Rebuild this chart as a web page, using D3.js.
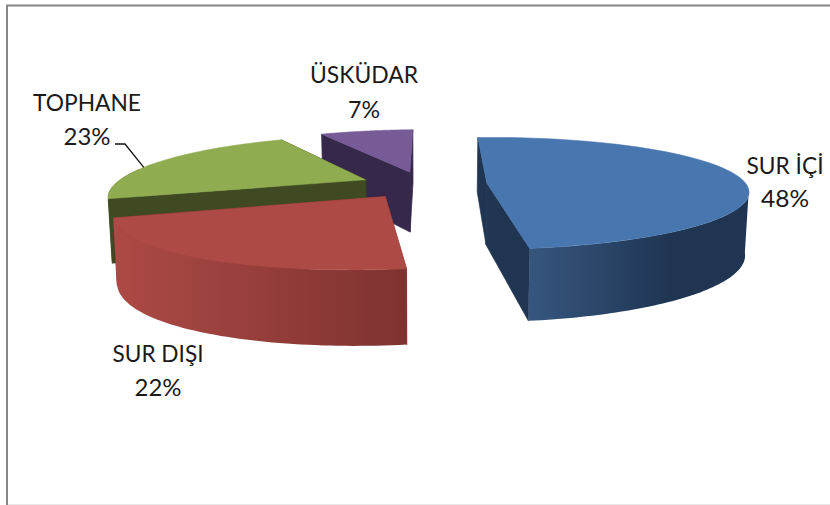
<!DOCTYPE html>
<html><head><meta charset="utf-8">
<style>html,body{margin:0;padding:0;background:#fff}svg{display:block}text{font-family:Lato,"Open Sans",sans-serif;fill:#1a1a1a}</style>
<script src="https://cdn.jsdelivr.net/npm/d3@7/dist/d3.min.js"></script>
</head><body><svg id="c" width="830" height="505"></svg>
<script>
const categories = ["SUR İÇİ", "SUR DIŞI", "TOPHANE", "ÜSKÜDAR"];
const shares = [48.49, 22, 22.51, 7];
const faceColors = ["#4876ae", "#ad4a45", "#8fac50", "#775b96"];
const wallColors = ["#1f3552", "#7e3230", "#3f4a22", "#36284a"];
const wallLightColors = ["#36567e", "#ad4a45", "#3f4a22", "#36284a"];
const labelAnchors = [[785,174,207],[158,362,396],[87,111,145],[364,83,118]];
const labelWidths = [[77,48],[91,47],[108,47],[108,32]];

const W = 830, H = 505;
const R = 260, explode = 64, persp = 0.186, squash = 0.21;
const cx = 423, cy = 184.5, vanishX = 515;
const deg = Math.PI / 180;
const svg = d3.select("#c");

function project(X, Z) {
  const s = 1 / (1 - persp * Z / R);
  return [vanishX + (X + cx - vanishX) * s, cy + squash * Z * s, s];
}
function upper(X, Z) { const p = project(X, Z); return [p[0], p[1]]; }
function lower(X, Z) {
  const p = project(X, Z);
  return [428 + (p[0] - 428) * 0.9876, p[1] + 14 + 48 * p[2]];
}
const line = d3.line();
const arcs = d3.pie().sort(null).startAngle(-3.5 * deg).endAngle(356.5 * deg)(shares);

const defs = svg.append("defs");
svg.append("rect").attr("width", W).attr("height", H).attr("fill", "#fff");

const slices = arcs.map((a, i) => {
  const mid = (a.startAngle + a.endAngle) / 2;
  const ox = explode * Math.sin(mid), oz = -explode * Math.cos(mid);
  const rim = t => {
    const sn = Math.sin(t);
    const rx = sn < 0 ? R * (1 - 0.04 * sn * sn) : R;
    return [ox + rx * sn, oz - R * Math.cos(t)];
  };
  const sample = (t0, t1) => d3.range(0, 61).map(j => rim(t0 + (t1 - t0) * j / 60));
  return { i, a, mid, ox, oz, rim, sample };
});

function drawSlice(sl) {
  const { i, a, ox, oz, rim, sample } = sl;
  const g = svg.append("g");
  const t0 = Math.max(a.startAngle, 97 * deg), t1 = Math.min(a.endAngle, 282 * deg);
  [a.startAngle, a.endAngle].forEach(t => {
    const r = rim(t);
    g.append("path").attr("fill", wallColors[i]).attr("stroke", wallColors[i]).attr("stroke-width", 0.7)
      .attr("d", line([upper(ox, oz), upper(r[0], r[1]), lower(r[0], r[1]), lower(ox, oz)]) + "Z");
  });
  if (t1 > t0) {
    const pts = sample(t0, t1);
    const up = pts.map(p => upper(p[0], p[1]));
    const dn = pts.map(p => lower(p[0], p[1])).reverse();
    const id = "wall" + i;
    const ext = d3.extent(up, p => p[0]);
    const gr = defs.append("linearGradient").attr("id", id).attr("gradientUnits", "userSpaceOnUse")
      .attr("x1", ext[0]).attr("x2", ext[1]).attr("y1", 0).attr("y2", 0);
    gr.append("stop").attr("offset", 0).attr("stop-color", wallLightColors[i]);
    if (i === 0) gr.append("stop").attr("offset", 0.65).attr("stop-color", wallColors[i]);
    gr.append("stop").attr("offset", 1).attr("stop-color", wallColors[i]);
    g.append("path").attr("fill", `url(#${id})`).attr("d", line(up.concat(dn)) + "Z");
  }
  const face = [upper(ox, oz)].concat(sample(a.startAngle, a.endAngle).map(p => upper(p[0], p[1])));
  g.append("path").attr("fill", faceColors[i]).attr("stroke", faceColors[i]).attr("stroke-width", 0.5).attr("d", line(face) + "Z");
}
[3, 2, 1, 0].forEach(i => drawSlice(slices[i]));

{
  const sl = slices[2];
  const r = sl.rim(sl.a.startAngle + 0.42 * (sl.a.endAngle - sl.a.startAngle));
  svg.append("path").attr("fill", "none").attr("stroke", "#111").attr("stroke-width", 1.3)
    .attr("d", line([[115, 144], [125, 144], upper(r[0], r[1])]));
}

categories.forEach((c, i) => {
  const l = labelAnchors[i], w = labelWidths[i];
  svg.append("text").attr("x", l[0]).attr("y", l[1]).attr("text-anchor", "middle").attr("font-size", 23)
    .attr("textLength", w[0]).attr("lengthAdjust", "spacingAndGlyphs").text(c);
  svg.append("text").attr("x", l[0]).attr("y", l[2]).attr("text-anchor", "middle").attr("font-size", 23)
    .attr("textLength", w[1]).attr("lengthAdjust", "spacingAndGlyphs").text(Math.round(shares[i]) + "%");
});

svg.append("path").attr("fill", "none").attr("stroke", "#868686").attr("stroke-width", 2)
  .attr("d", line([[7, H], [7, 5.5], [W, 5.5]]));
svg.append("path").attr("fill", "none").attr("stroke", "#e8e8e8").attr("stroke-width", 1)
  .attr("d", line([[8, 504.5], [W, 504.5]]));
</script></body></html>
